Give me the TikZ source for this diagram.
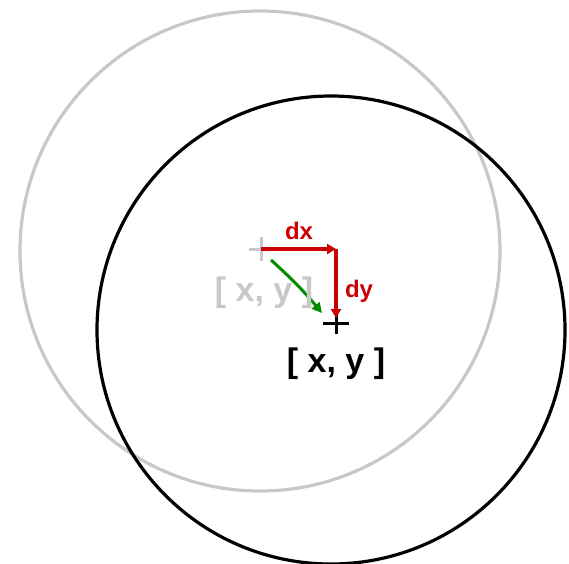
\documentclass[tikz,border=0pt]{standalone}
\usepackage{fontspec}
\setmainfont{Liberation Sans}
\usetikzlibrary{arrows.meta}
\definecolor{lgray}{RGB}{200,200,200}
\definecolor{dred}{RGB}{204,0,0}
\definecolor{dgreen}{RGB}{0,140,0}
\begin{document}
\begin{tikzpicture}[x=1pt,y=-1pt,
  circ/.style={line width=3.2pt},
  crossmark/.style={line width=3pt},
  lbl/.style={font=\fontsize{34}{40}\selectfont\bfseries, inner sep=0pt},
  dlbl/.style={font=\fontsize{24}{28}\selectfont\bfseries, text=dred, inner sep=0pt},
  redarrow/.style={draw=dred, line width=4pt, -{Triangle[length=9pt,width=10pt]}},
  grnarrow/.style={draw=dgreen, line width=3pt, -{Triangle[length=10pt,width=10pt]}}
]
\useasboundingbox (0,0) rectangle (569,563);
\coordinate (c1) at (260,251);
\coordinate (c2) at (331,330);
\draw[circ, lgray] (c1) circle (240);
\draw[circ, black] (c2) circle (234);
% crosses
\coordinate (p1) at (261,249);
\coordinate (p2) at (336,323);
\coordinate (corner) at (336,249);
\coordinate (p2top) at (336,318);
\draw[crossmark, lgray] ([xshift=-12]p1) -- ([xshift=12]p1);
\draw[crossmark, lgray] ([yshift=-12]p1) -- ([yshift=12]p1);
\draw[crossmark, black] ([xshift=-13]p2) -- ([xshift=13]p2);
\draw[crossmark, black] ([yshift=-11]p2) -- ([yshift=12]p2);
% red arrows
\draw[redarrow] (p1) -- (corner);
\draw[redarrow] (corner) -- (p2top);
% green arrow
\coordinate (g1) at (271,260);
\coordinate (g2) at (322,313);
\draw[grnarrow] (g1) to[bend left=4] (g2);
% labels
\node[dlbl] (dx) at (299,231) {dx};
\node[dlbl] (dy) at (359,291) {dy};
\node[lbl, text=lgray] (l1) at (264,293) {[ x, y ]};
\node[lbl, text=black] (l2) at (336,364) {[ x, y ]};
\end{tikzpicture}
\end{document}
